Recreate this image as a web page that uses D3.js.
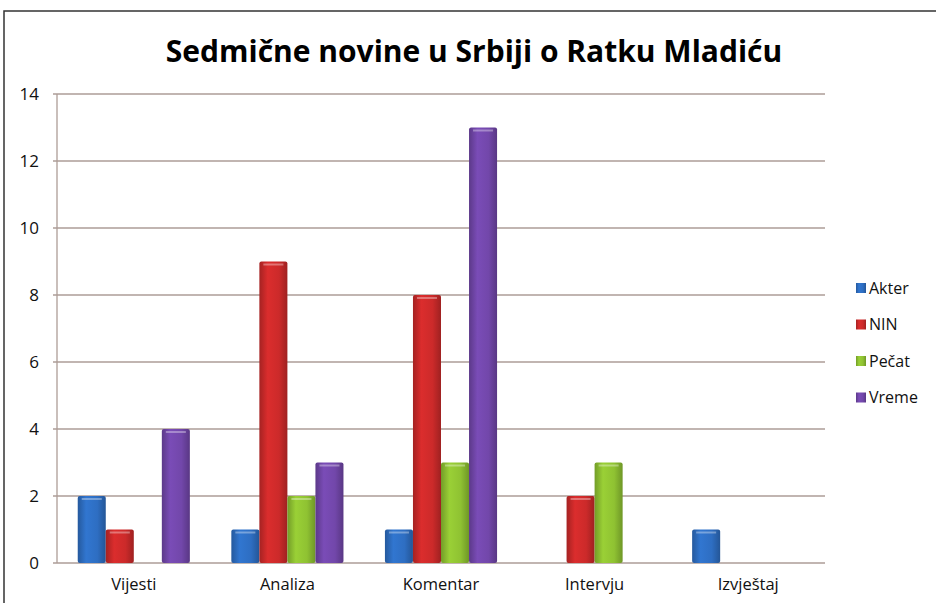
<!DOCTYPE html>
<html>
<head>
<meta charset="utf-8">
<title>Sedmične novine u Srbiji o Ratku Mladiću</title>
<script src="https://d3js.org/d3.v7.min.js"></script>
<style>
  * { margin: 0; padding: 0; }
  body { background: #fff; }
  svg { display: block; font-family: "Open Sans", "DejaVu Sans", sans-serif; }
</style>
</head>
<body>
<div id="chart"></div>
<script>
// data
const categories = ["Vijesti", "Analiza", "Komentar", "Intervju", "Izvještaj"];
const seriesNames = ["Akter", "NIN", "Pečat", "Vreme"];
const akter  = [2, 1, 1, 0, 1];
const nin    = [1, 9, 8, 2, 0];
const pecat  = [0, 2, 3, 3, 0];
const vreme  = [4, 3, 13, 0, 0];
const yTicks = [0, 2, 4, 6, 8, 10, 12, 14];
const seriesValues = [akter, nin, pecat, vreme];

const colors = ["#2e6ec2", "#cc2a2a", "#8fc232", "#7247aa"];

const width = 936, height = 603;
const margin = { top: 94, right: 111, bottom: 40, left: 57 };

const svg = d3.select("#chart").append("svg")
  .attr("width", width)
  .attr("height", height);

// gradients (cylinder look)
const defs = svg.append("defs");
colors.forEach((c, i) => {
  const g = defs.append("linearGradient")
    .attr("id", "grad" + i)
    .attr("x1", "0%").attr("x2", "100%").attr("y1", "0%").attr("y2", "0%");
  const base = d3.color(c);
  g.append("stop").attr("offset", "0%").attr("stop-color", base.darker(0.6));
  g.append("stop").attr("offset", "30%").attr("stop-color", base.brighter(0.2));
  g.append("stop").attr("offset", "70%").attr("stop-color", base);
  g.append("stop").attr("offset", "100%").attr("stop-color", base.darker(0.7));
});

// frame (top and left edges)
svg.append("path")
  .attr("d", `M4,${height} L4,11 L${width},11`)
  .attr("fill", "none")
  .attr("stroke", "#333")
  .attr("stroke-width", 1.5);

// title
svg.append("text")
  .attr("x", 474)
  .attr("y", 62)
  .attr("text-anchor", "middle")
  .attr("font-size", 30)
  .attr("font-weight", "bold")
  .attr("fill", "#000")
  .text("Sedmične novine u Srbiji o Ratku Mladiću");

const plotW = width - margin.left - margin.right;
const plotH = height - margin.top - margin.bottom;

const x0 = d3.scaleBand()
  .domain(categories)
  .range([margin.left, margin.left + plotW])
  .paddingInner(0)
  .paddingOuter(0);

const inner = x0.bandwidth() * 0.135;
const x1 = d3.scaleBand()
  .domain(seriesNames)
  .range([inner, x0.bandwidth() - inner])
  .padding(0);

const y = d3.scaleLinear()
  .domain([0, 14])
  .range([margin.top + plotH, margin.top]);

// gridlines
const gridColor = "#ad9d97";
svg.append("g")
  .selectAll("line")
  .data(yTicks)
  .join("line")
  .attr("x1", margin.left - 4)
  .attr("x2", margin.left + plotW)
  .attr("y1", d => y(d))
  .attr("y2", d => y(d))
  .attr("stroke", gridColor)
  .attr("stroke-width", 1.3);

// y axis line
svg.append("line")
  .attr("x1", margin.left).attr("x2", margin.left)
  .attr("y1", y(14)).attr("y2", y(0))
  .attr("stroke", gridColor)
  .attr("stroke-width", 1.3);

// y tick labels
svg.append("g")
  .selectAll("text")
  .data(yTicks)
  .join("text")
  .attr("x", 39)
  .attr("y", d => y(d))
  .attr("dy", "0.35em")
  .attr("text-anchor", "end")
  .attr("font-size", 17)
  .attr("fill", "#111")
  .text(d => d);

// bars
const groups = svg.append("g")
  .selectAll("g")
  .data(categories)
  .join("g")
  .attr("transform", d => `translate(${x0(d)},0)`);

groups.selectAll("rect")
  .data((c, ci) => seriesNames.map((s, si) => ({ s, si, v: seriesValues[si][ci] })))
  .join("rect")
  .filter(d => d.v > 0)
  .attr("x", d => x1(d.s))
  .attr("width", x1.bandwidth())
  .attr("y", d => y(d.v))
  .attr("height", d => y(0) - y(d.v))
  .attr("rx", 2)
  .attr("fill", d => `url(#grad${d.si})`);

// bar top highlights
groups.selectAll("line.top")
  .data((c, ci) => seriesNames.map((s, si) => ({ s, si, v: seriesValues[si][ci] })).filter(d => d.v > 0))
  .join("line")
  .attr("class", "top")
  .attr("x1", d => x1(d.s) + 4)
  .attr("x2", d => x1(d.s) + x1.bandwidth() - 4)
  .attr("y1", d => y(d.v) + 3)
  .attr("y2", d => y(d.v) + 3)
  .attr("stroke", "#fff")
  .attr("stroke-opacity", 0.35)
  .attr("stroke-width", 2);

// x labels
svg.append("g")
  .selectAll("text")
  .data(categories)
  .join("text")
  .attr("x", d => x0(d) + x0.bandwidth() / 2)
  .attr("y", 590)
  .attr("text-anchor", "middle")
  .attr("font-size", 16.5)
  .attr("fill", "#111")
  .text(d => d);

// legend
const legend = svg.append("g")
  .selectAll("g")
  .data(seriesNames)
  .join("g")
  .attr("transform", (d, i) => `translate(856,${288 + i * 36.5})`);

legend.append("rect")
  .attr("x", 0).attr("y", -5)
  .attr("width", 10).attr("height", 10)
  .attr("fill", (d, i) => `url(#grad${i})`);

legend.append("text")
  .attr("x", 13)
  .attr("y", 0)
  .attr("dy", "0.35em")
  .attr("font-size", 16)
  .attr("fill", "#111")
  .text(d => d);
</script>
</body>
</html>
